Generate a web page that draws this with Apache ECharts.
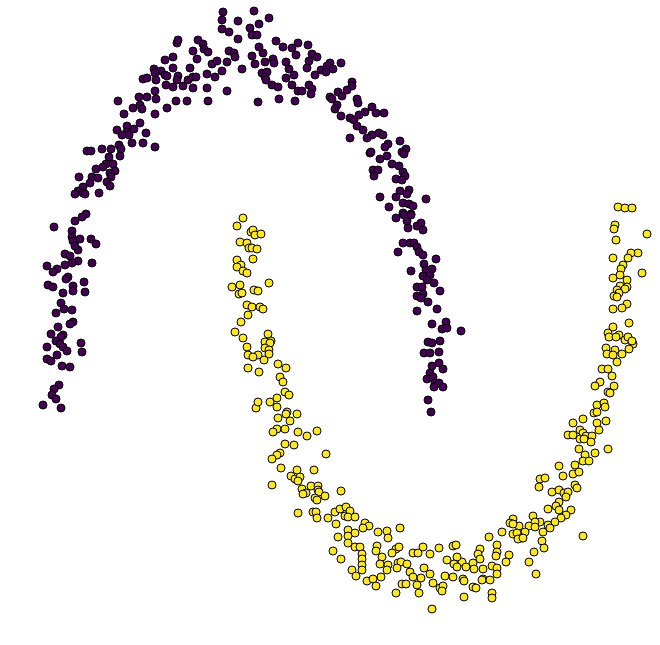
<!DOCTYPE html>
<html>
<head>
<meta charset="utf-8">
<script src="https://cdn.jsdelivr.net/npm/echarts@6/dist/echarts.min.js"></script>
<style>html,body{margin:0;padding:0;background:#fff}#c{width:660px;height:645px}</style>
</head>
<body>
<div id="c"></div>
<script>
const purplePoints = [
[223,12],[222,20],[238,21],[222,29],[229,32],[238,39],[177,43],[178,40],[198,40],[203,44],[193,51],[204,49],[208,52],[229,51],[234,53],[235,57],[173,57],[165,60],[197,59],[212,64],[217,61],[227,62],[222,71],[242,69],[190,68],[207,74],[215,77],[154,69],[161,71],[173,68],[155,73],[165,75],[143,79],[147,78],[156,80],[167,76],[178,76],[177,80],[188,80],[193,77],[196,77],[207,88],[227,91],[166,85],[173,87],[183,86],[193,88],[155,91],[139,97],[147,97],[156,99],[118,101],[140,105],[133,108],[142,109],[176,101],[187,101],[208,101],[167,108],[124,114],[155,114],[140,123],[127,126],[134,129],[117,130],[127,132],[122,135],[129,135],[146,133],[132,143],[143,143],[155,147],[119,145],[121,149],[111,149],[102,149],[87,151],[91,151],[120,156],[109,157],[113,164],[106,164],[103,167],[96,169],[115,171],[110,173],[111,177],[92,177],[98,178],[79,177],[90,183],[107,182],[110,186],[83,187],[78,191],[75,194],[83,193],[85,194],[99,193],
[254,11],[269,18],[259,24],[250,28],[252,35],[257,35],[276,41],[283,47],[292,48],[298,43],[308,45],[259,47],[263,53],[296,55],[312,54],[317,57],[309,61],[252,56],[255,64],[265,62],[273,59],[274,63],[286,62],[330,63],[341,63],[327,66],[333,69],[321,70],[307,68],[289,69],[262,73],[267,72],[265,77],[294,75],[286,78],[315,75],[326,72],[266,80],[272,85],[278,87],[292,85],[309,85],[312,89],[298,91],[302,91],[352,82],[352,86],[347,90],[338,92],[342,96],[311,94],[279,99],[295,101],[258,102],[330,97],[332,99],[357,99],[358,103],[337,105],[335,109],[372,107],[376,113],[384,113],[365,112],[359,115],[341,116],[350,118],[354,120],[357,126],[363,130],[372,135],[379,133],[383,135],[367,138],[350,138],[388,144],[385,147],[400,141],[406,149],[402,152],[404,154],[387,156],[370,153],[371,152],[380,159],[392,164],[399,166],[373,170],[378,170],[374,176],[403,172],[405,176],[396,179],[402,180],[400,191],[409,190],[407,194],[396,197],[380,197],[389,207],[403,203],[409,204],[413,206],[426,199],[403,213],[411,214],
[396,218],[404,215],[411,215],[407,221],[417,226],[421,223],[408,228],[423,230],[403,243],[410,243],[414,243],[417,247],[398,252],[419,252],[423,255],[436,259],[424,264],[411,271],[426,270],[432,269],[423,276],[430,275],[427,280],[434,283],[417,287],[422,287],[423,294],[417,296],[421,298],[428,302],[440,291],[437,309],[417,311],[432,324],[446,322],[442,329],[447,328],[461,331],[428,342],[432,343],[440,341],[424,353],[430,353],[439,352],[432,366],[439,363],[443,369],[430,373],[427,379],[433,377],[435,383],[439,383],[443,387],[434,387],[428,400],[431,412],
[86,214],[82,217],[75,221],[54,227],[72,231],[72,237],[80,239],[91,239],[96,244],[73,241],[78,250],[75,246],[65,254],[70,256],[78,261],[72,263],[65,265],[92,263],[47,266],[57,269],[53,272],[68,277],[66,279],[84,282],[48,285],[53,287],[73,286],[73,291],[85,292],[63,293],[61,303],[56,313],[64,309],[72,310],[73,322],[70,324],[58,327],[51,334],[63,335],[61,337],[56,341],[60,344],[63,347],[47,347],[81,343],[67,351],[82,352],[57,355],[47,359],[51,361],[62,366],[70,367],[59,385],[54,389],[52,395],[56,399],[43,405],[61,408]
];
const yellowPoints = [
[243,218],[237,226],[251,232],[240,242],[247,243],[249,248],[237,260],[241,265],[237,267],[243,271],[247,273],[232,287],[240,285],[239,294],[242,293],[247,305],[248,315],[241,322],[235,332],[243,338],[247,347],[248,355],[248,368],
[253,230],[255,235],[261,234],[252,248],[257,249],[253,259],[269,283],[254,290],[258,291],[252,307],[260,307],[263,309],[268,334],[265,342],[271,341],[270,343],[265,348],[269,350],[269,354],[258,355],[253,357],[264,360],[278,364],[286,368],[259,372],[280,377],[283,382],[285,392],[289,395],[277,398],
[256,408],[258,402],[270,402],[277,407],[287,412],[286,414],[297,414],[278,418],[290,421],[277,429],[273,432],[285,429],[298,432],[307,436],[317,431],[285,444],[294,445],[326,454],[280,453],[277,455],[272,459],[281,468],[297,470],[314,470],[291,476],[295,479],[300,477],[298,481],[272,485],[311,486],[318,486],[302,489],[318,490],[319,492],[306,493],[303,494],[315,498],[325,496],[317,500],[341,491],[298,513],[313,512],[316,512],[317,518],[328,518],[335,512],[340,509],[346,507],[345,516],[350,511],[348,517],[355,517],[336,524],[365,523],[369,526],[363,528],[378,532],[387,531],[400,528],[348,530],[355,533],[348,536],[338,537],[388,538],[348,543],[355,547],[360,547],[377,546],[376,551],[396,549],[399,547],[333,551],[362,554],[392,553],[382,557],[341,559],[362,559],[362,565],[380,564],[388,565],[398,563],[401,562],[407,564],[413,553],[418,553],[423,547],[430,554],[439,548],[447,560],[362,570],[387,570],[397,568],[424,568],[352,570],[356,576],[367,581],[373,579],[376,586],[381,577],[410,572],[413,577],[421,578],[430,574],[445,576],[402,584],[406,584],[417,585],[433,583],[440,588],[443,586],[442,591],[396,593],[419,593],[432,609],
[597,405],[604,403],[605,407],[594,413],[597,412],[583,419],[573,423],[597,423],[606,421],[580,430],[599,430],[568,435],[573,435],[583,433],[586,436],[592,436],[580,439],[584,439],[591,442],[579,449],[608,449],[595,453],[585,455],[583,461],[589,461],[559,466],[575,465],[563,476],[573,474],[579,472],[540,479],[545,478],[539,487],[552,492],[559,490],[564,493],[568,492],[566,497],[575,485],[577,488],[559,502],[556,506],[548,509],[559,510],[571,510],[566,515],[561,518],[533,516],[555,522],[548,525],[550,528],[540,522],[535,522],[529,526],[535,527],[543,532],[525,532],[513,519],[510,523],[519,526],[513,524],[513,534],[517,533],[522,538],[518,539],[523,538],[502,532],[489,537],[542,541],[544,548],[534,552],[529,562],[536,574],[583,536],[497,545],[480,549],[478,554],[497,552],[496,556],[509,555],[506,562],[492,566],[497,568],[497,574],[483,569],[473,563],[480,559],[474,569],[462,562],[466,567],[457,557],[454,564],[457,567],[453,546],[456,545],[453,577],[463,579],[464,581],[483,579],[482,580],[490,580],[473,587],[476,588],[464,597],[492,593],[492,598],
[618,207],[625,208],[632,208],[615,225],[614,229],[647,234],[616,240],[638,253],[631,253],[628,258],[613,258],[642,273],[623,265],[621,269],[620,275],[613,278],[627,280],[627,287],[620,286],[617,290],[625,289],[619,293],[614,296],[617,297],[627,304],[622,308],[613,309],[629,323],[613,327],[608,333],[609,337],[619,335],[616,337],[625,340],[628,337],[633,344],[632,341],[629,349],[606,348],[615,350],[607,354],[613,355],[622,354],[617,362],[602,369],[608,369],[612,376],[600,382],[595,386],[614,386],[608,392],[610,393]
];
const purpleColor = '#440154';
const yellowColor = '#fde725';

const chart = echarts.init(document.getElementById('c'), null, {renderer: 'canvas'});
chart.setOption({
  animation: false,
  backgroundColor: '#ffffff',
  grid: {left: 0, right: 0, top: 0, bottom: 0},
  xAxis: {type: 'value', min: 0, max: 660, show: false},
  yAxis: {type: 'value', min: 0, max: 645, inverse: true, show: false},
  series: [
    {type: 'scatter', data: purplePoints, symbolSize: 8,
     itemStyle: {color: purpleColor, borderColor: '#000', borderWidth: 1, opacity: 1}},
    {type: 'scatter', data: yellowPoints, symbolSize: 8,
     itemStyle: {color: yellowColor, borderColor: '#000', borderWidth: 1, opacity: 1}}
  ]
});
</script>
</body>
</html>
